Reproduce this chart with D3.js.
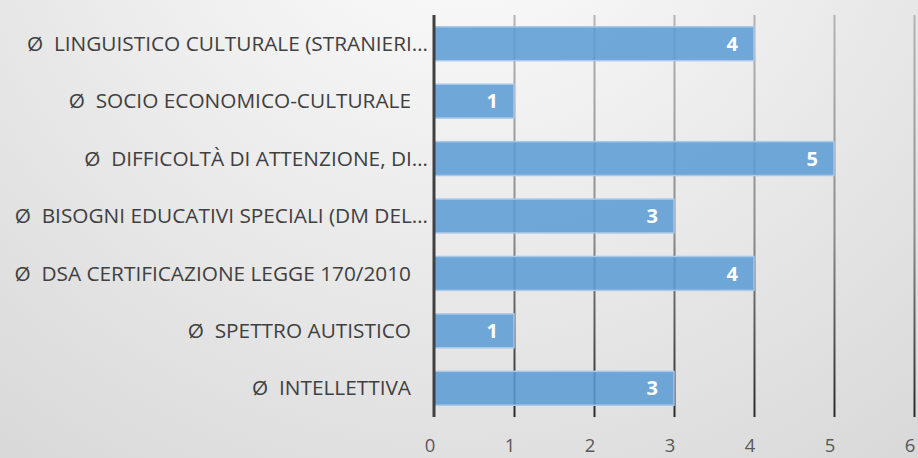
<!DOCTYPE html>
<html>
<head>
<meta charset="utf-8">
<script src="https://cdn.jsdelivr.net/npm/d3@7"></script>
<style>
  html, body { margin: 0; padding: 0; }
  svg { display: block; }
</style>
</head>
<body>
<div id="chart"></div>
<script>
const categories = [
  'Ø  LINGUISTICO CULTURALE (STRANIERI…',
  'Ø  SOCIO ECONOMICO-CULTURALE',
  'Ø  DIFFICOLTÀ DI ATTENZIONE, DI…',
  'Ø  BISOGNI EDUCATIVI SPECIALI (DM DEL…',
  'Ø  DSA CERTIFICAZIONE LEGGE 170/2010',
  'Ø  SPETTRO AUTISTICO',
  'Ø  INTELLETTIVA'
];
const values = [4, 1, 5, 3, 4, 1, 3];
const tickValues = [0, 1, 2, 3, 4, 5, 6];

const dimension = {
  width: 918,
  height: 458,
  margin: { top: 15, right: 4, bottom: 41, left: 434 }
};

const svg = d3.select('#chart')
  .append('svg')
  .attr('width', dimension.width)
  .attr('height', dimension.height);

const defs = svg.append('defs');
const bg = defs.append('radialGradient')
  .attr('id', 'bg')
  .attr('gradientUnits', 'userSpaceOnUse')
  .attr('cx', 460).attr('cy', -160).attr('r', 860);
bg.append('stop').attr('offset', '0%').attr('stop-color', '#ffffff');
bg.append('stop').attr('offset', '100%').attr('stop-color', '#d4d4d4');

const plotBottom = dimension.height - dimension.margin.bottom;
const gridGrad = defs.append('linearGradient')
  .attr('id', 'grid')
  .attr('gradientUnits', 'userSpaceOnUse')
  .attr('x1', 0).attr('y1', dimension.margin.top)
  .attr('x2', 0).attr('y2', plotBottom);
gridGrad.append('stop').attr('offset', '0%').attr('stop-color', '#b4b4b4');
gridGrad.append('stop').attr('offset', '55%').attr('stop-color', '#8a8a8a');
gridGrad.append('stop').attr('offset', '100%').attr('stop-color', '#2a2a2a');

svg.append('rect')
  .attr('width', dimension.width)
  .attr('height', dimension.height)
  .attr('fill', 'url(#bg)');

const xScale = d3.scaleLinear()
  .domain([0, 6])
  .range([dimension.margin.left, dimension.margin.left + 480]);

const yScale = d3.scaleBand()
  .domain(categories)
  .range([dimension.margin.top, plotBottom])
  .paddingInner(0.41)
  .paddingOuter(0.205);

// gridlines
svg.append('g')
  .selectAll('line')
  .data(tickValues.slice(1))
  .join('line')
  .attr('x1', d => Math.round(xScale(d)) + 0.5)
  .attr('x2', d => Math.round(xScale(d)) + 0.5)
  .attr('y1', dimension.margin.top)
  .attr('y2', plotBottom)
  .attr('stroke', 'url(#grid)')
  .attr('stroke-width', 2);

// bars
svg.append('g')
  .selectAll('rect')
  .data(values)
  .join('rect')
  .attr('x', xScale(0))
  .attr('y', (d, i) => yScale(categories[i]))
  .attr('width', d => xScale(d) - xScale(0))
  .attr('height', yScale.bandwidth())
  .attr('fill', '#5b9bd5')
  .attr('fill-opacity', 0.86)
  .attr('stroke', '#a9c9e8')
  .attr('stroke-width', 1.5);

// value labels
svg.append('g')
  .selectAll('text')
  .data(values)
  .join('text')
  .attr('x', d => xScale(d) - 16)
  .attr('y', (d, i) => yScale(categories[i]) + yScale.bandwidth() / 2)
  .attr('dy', '0.36em')
  .attr('text-anchor', 'end')
  .attr('fill', '#ffffff')
  .attr('font-family', '"Open Sans", Lato, sans-serif')
  .attr('font-weight', 'bold')
  .attr('font-size', 20)
  .text(d => d);

// category axis line
svg.append('line')
  .attr('x1', xScale(0))
  .attr('x2', xScale(0))
  .attr('y1', dimension.margin.top)
  .attr('y2', plotBottom)
  .attr('stroke', '#404040')
  .attr('stroke-width', 3);

// category labels
svg.append('g')
  .selectAll('text')
  .data(categories)
  .join('text')
  .attr('x', d => d.endsWith('…') ? 428 : 411)
  .attr('y', d => yScale(d) + yScale.bandwidth() / 2)
  .attr('dy', '0.34em')
  .attr('text-anchor', 'end')
  .attr('fill', '#404040')
  .attr('font-family', '"Open Sans", Lato, sans-serif')
  .attr('font-size', 20.8)
  .style('white-space', 'pre')
  .text(d => d);

// value axis tick labels
svg.append('g')
  .selectAll('text')
  .data(tickValues)
  .join('text')
  .attr('x', d => xScale(d) - 4)
  .attr('y', 445)
  .attr('dy', '0.36em')
  .attr('text-anchor', 'middle')
  .attr('fill', '#595959')
  .attr('font-family', '"Open Sans", Lato, sans-serif')
  .attr('font-size', 18.5)
  .text(d => d);
</script>
</body>
</html>
